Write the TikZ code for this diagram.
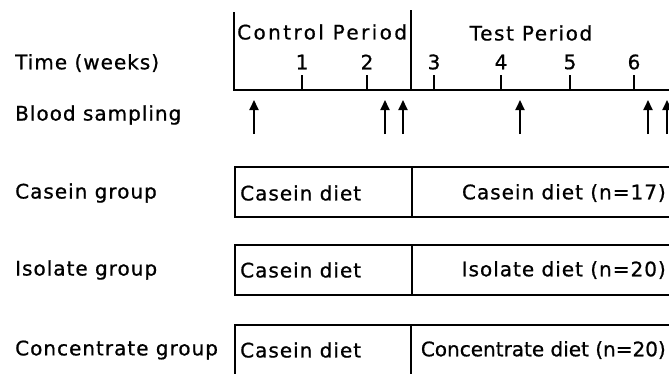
\documentclass[tikz,border=0pt]{standalone}
\usepackage{fontspec}
\setmainfont{DejaVu Sans}[LetterSpace=5,FakeBold=0.8]
\newfontfamily\tightfont{DejaVu Sans}[FakeBold=0.8]
\newfontfamily\widefont{DejaVu Sans}[LetterSpace=12,FakeBold=0.8]
\newfontfamily\midfont{DejaVu Sans}[LetterSpace=8,FakeBold=0.8]
\usetikzlibrary{arrows.meta}
\begin{document}
\begin{tikzpicture}[x=1pt,y=-1pt,
  lbl/.style={inner sep=0pt, font=\fontsize{20}{22}\selectfont},
  ln/.style={line width=2pt},
  tick/.style={line width=2pt},
  samp/.style={line width=2pt, -{Triangle[length=10pt,width=9pt]}},
  ]
\useasboundingbox (0,0) rectangle (669,373);
% left labels
\node[lbl, anchor=west] (time) at (15,63) {Time (weeks)};
\node[lbl, anchor=west] (blood) at (15,115) {Blood sampling};
\node[lbl, anchor=west] (cg) at (15,193) {Casein group};
\node[lbl, anchor=west] (ig) at (15,270) {Isolate group};
\node[lbl, anchor=west] (ccg) at (15,350) {Concentrate group};
% axis
\coordinate (a0) at (234,12);
\coordinate (a1) at (234,90);
\coordinate (a2) at (672,90);
\coordinate (d0) at (411,10);
\coordinate (d1) at (411,90);
\draw[ln] (a0) -- (a1) -- (a2);
\draw[ln] (d0) -- (d1);
\node[lbl, anchor=west, font=\fontsize{20}{22}\widefont] (cp) at (237,32) {Control Period};
\node[lbl, font=\fontsize{20}{22}\midfont] (tp) at (531,33) {Test Period};
\foreach \x/\n in {302/1,367/2,434/3,501/4,570/5,634/6}{
  \coordinate (t\n) at (\x,90);
  \coordinate (u\n) at (\x,75);
  \draw[tick] (t\n) -- (u\n);
  \node[lbl] (l\n) at (\x,62) {\n};
}
% blood sampling arrows
\foreach \x [count=\i] in {254,385,403,520,648,667}{
  \coordinate (s\i) at (\x,134);
  \coordinate (e\i) at (\x,100);
  \draw[samp] (s\i) -- (e\i);
}
% group boxes
\draw[ln] (235,167) rectangle (680,217);
\draw[ln] (412,167) -- (412,217);
\node[lbl, anchor=west] (c1) at (240,193) {Casein diet};
\node[lbl, anchor=east] (c2) at (666,193) {Casein diet (n=17)};
\draw[ln] (235,245) rectangle (680,295);
\draw[ln] (412,245) -- (412,295);
\node[lbl, anchor=west] (i1) at (240,270) {Casein diet};
\node[lbl, anchor=east] (i2) at (666,270) {Isolate diet (n=20)};
\draw[ln] (235,325) rectangle (680,380);
\draw[ln] (411,325) -- (411,380);
\node[lbl, anchor=west] (k1) at (240,350) {Casein diet};
\node[lbl, anchor=east, font=\fontsize{20}{22}\tightfont] (k2) at (666,350) {Concentrate diet (n=20)};
\end{tikzpicture}
\end{document}
